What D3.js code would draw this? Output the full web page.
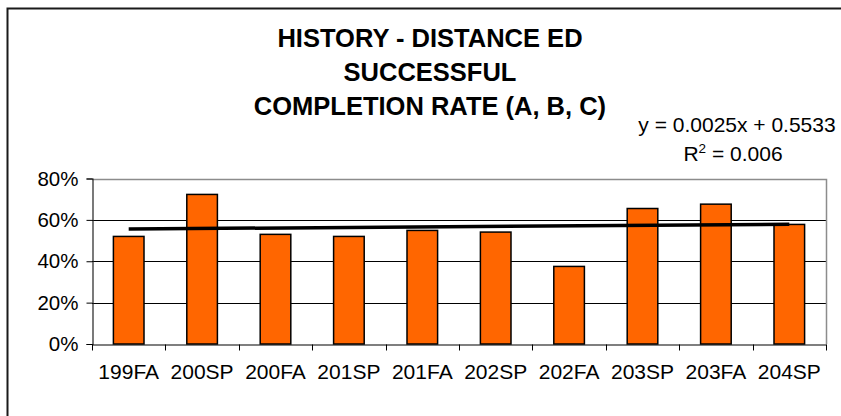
<!DOCTYPE html>
<html>
<head>
<meta charset="utf-8">
<script src="https://cdn.jsdelivr.net/npm/d3@7/dist/d3.min.js"></script>
<style>
  html, body { margin: 0; padding: 0; background: #fff; }
  svg { display: block; font-family: "Liberation Sans", Arial, sans-serif; }
</style>
</head>
<body>
<svg id="chart" width="841" height="416"></svg>
<script>
const titleLines = ["HISTORY - DISTANCE ED", "SUCCESSFUL", "COMPLETION RATE (A, B, C)"];
const categories = ["199FA", "200SP", "200FA", "201SP", "201FA", "202SP", "202FA", "203SP", "203FA", "204SP"];
const rates = [0.520, 0.723, 0.530, 0.520, 0.549, 0.541, 0.375, 0.655, 0.676, 0.578];
const yTicks = [0, 0.2, 0.4, 0.6, 0.8];
const trendSlope = 0.0025;
const trendIntercept = 0.5533;
const trendR2 = "0.006";

const svg = d3.select("#chart");
const W = 841, H = 416;
const plot = { left: 92, right: 826, top: 178.5, bottom: 344 };

svg.append("rect").attr("width", W).attr("height", H).attr("fill", "#fff");

// outer chart border (clipped by window on right/bottom)
svg.append("rect")
  .attr("x", 7.5).attr("y", 8.5)
  .attr("width", 1000).attr("height", 1000)
  .attr("fill", "none").attr("stroke", "#1a1a1a").attr("stroke-width", 2);

const x = d3.scaleBand().domain(categories).range([plot.left, plot.right]).paddingInner(0.583).paddingOuter(0.2915);
const xOuter = d3.scaleBand().domain(categories).range([plot.left, plot.right]);
const y = d3.scaleLinear().domain([0, 0.8]).range([plot.bottom, plot.top]);

// gridlines
svg.append("g")
  .selectAll("line")
  .data(yTicks.filter(d => d > 0 && d < 0.8))
  .join("line")
  .attr("x1", plot.left).attr("x2", plot.right)
  .attr("y1", d => Math.round(y(d)) + 0.5).attr("y2", d => Math.round(y(d)) + 0.5)
  .attr("stroke", "#000").attr("stroke-width", 1);

// plot border top & right (gray)
svg.append("path")
  .attr("d", `M${plot.left},${Math.round(plot.top) + 0.5}H${plot.right + 0.5}V${plot.bottom}`)
  .attr("fill", "none").attr("stroke", "#8c8c8c").attr("stroke-width", 1.5);

// bars
svg.append("g")
  .selectAll("rect")
  .data(rates)
  .join("rect")
  .attr("x", (d, i) => x(categories[i]))
  .attr("width", x.bandwidth())
  .attr("y", d => y(d))
  .attr("height", d => y(0) - y(d))
  .attr("fill", "#FF6600")
  .attr("stroke", "#000")
  .attr("stroke-width", 1.5);

// y axis
const yAxis = d3.axisLeft(y).tickValues(yTicks).tickFormat(d3.format(".0%")).tickSize(6).tickPadding(8);
const gy = svg.append("g").attr("transform", `translate(${plot.left + 0.5},0)`).call(yAxis);
gy.select(".domain").attr("stroke", "#222").attr("stroke-width", 1.2);
gy.selectAll(".tick line").attr("stroke", "#000");
gy.selectAll(".tick text").attr("font-size", 20.5).attr("fill", "#000")
  .attr("font-family", "'Liberation Sans', Arial, sans-serif");

// x axis
const gx = svg.append("g").attr("transform", `translate(0,${plot.bottom + 0.5})`)
  .call(d3.axisBottom(x).tickSize(0).tickPadding(20));
gx.select(".domain").attr("stroke", "#000").attr("stroke-width", 1.2);
gx.selectAll(".tick text").attr("font-size", 21).attr("fill", "#000")
  .attr("font-family", "'Liberation Sans', Arial, sans-serif");
// category boundary ticks
const bounds = categories.map(c => xOuter(c)).concat([plot.right]);
gx.append("g").selectAll("line").data(bounds).join("line")
  .attr("x1", d => Math.round(d) + 0.5).attr("x2", d => Math.round(d) + 0.5)
  .attr("y1", 0).attr("y2", 6)
  .attr("stroke", "#000");

// trendline
const xc = i => x(categories[i]) + x.bandwidth() / 2;
const trend = [0, categories.length - 1].map(i => [xc(i), y(trendSlope * (i + 1) + trendIntercept)]);
svg.append("path")
  .attr("d", d3.line()(trend))
  .attr("stroke", "#000").attr("stroke-width", 3.5).attr("fill", "none");

// title
svg.append("text")
  .attr("x", 430).attr("y", 47)
  .attr("text-anchor", "middle")
  .attr("font-size", 25.5).attr("font-weight", "bold")
  .selectAll("tspan").data(titleLines).join("tspan")
  .attr("x", 430).attr("dy", (d, i) => i === 0 ? 0 : 34)
  .text(d => d);

// trendline equation
svg.append("text")
  .attr("x", 737).attr("y", 132)
  .attr("text-anchor", "middle").attr("font-size", 21)
  .text(`y = ${trendSlope.toFixed(4)}x + ${trendIntercept.toFixed(4)}`);
const r2 = svg.append("text")
  .attr("x", 733).attr("y", 161)
  .attr("text-anchor", "middle").attr("font-size", 21);
r2.append("tspan").text("R");
r2.append("tspan").attr("font-size", 13.5).attr("dy", -8).text("2");
r2.append("tspan").attr("dy", 8).text(` = ${trendR2}`);
</script>
</body>
</html>
